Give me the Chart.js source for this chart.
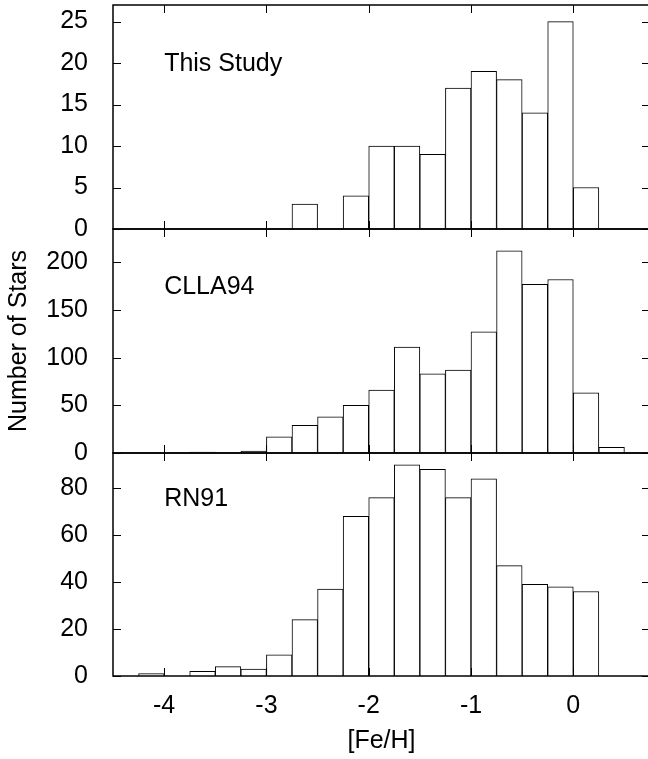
<!DOCTYPE html>
<html>
<head>
<meta charset="utf-8">
<script src="https://cdn.jsdelivr.net/npm/chart.js@4"></script>
<style>
  html, body { margin: 0; padding: 0; background: #fff; }
  #wrap { position: relative; width: 648px; height: 759px; overflow: hidden; }
  canvas { position: absolute; left: 0; }
</style>
</head>
<body>
<div id="wrap">
  <canvas id="p1" width="650" height="250" style="top:0px"></canvas>
  <canvas id="p2" width="650" height="260" style="top:210px"></canvas>
  <canvas id="p3" width="650" height="324" style="top:435px"></canvas>
</div>
<script>
// ---- Data: [Fe/H] histograms, bin width 0.25 ----
const binCenters = [-4.375, -4.125, -3.875, -3.625, -3.375, -3.125, -2.875, -2.625, -2.375, -2.125,
                    -1.875, -1.625, -1.375, -1.125, -0.875, -0.625, -0.375, -0.125, 0.125, 0.375];
const thisStudy  = [0, 0, 0, 0, 0, 0, 0, 3, 0, 4, 10, 10, 9, 17, 19, 18, 14, 25, 5, 0];
const clla94     = [0, 0, 0, 1, 0, 2, 17, 29, 38, 50, 66, 111, 83, 87, 127, 212, 177, 182, 63, 6];
const rn91       = [0, 1, 0, 2, 4, 3, 9, 24, 37, 68, 76, 90, 88, 76, 84, 47, 39, 38, 36, 0];
const panelLabels = ['This Study', 'CLLA94', 'RN91'];
const xTicksStep = 1;

const FONT = '"Liberation Sans", Arial, Helvetica, sans-serif';
Chart.defaults.font.family = FONT;
Chart.defaults.font.size = 25;
Chart.defaults.color = '#000';

// ---- frame + inward ticks + panel label (gnuplot look) ----
const framePlugin = {
  id: 'frame',
  afterDraw(chart, args, opts) {
    const { ctx, chartArea: a, scales } = chart;
    const tl = 8;
    ctx.save();
    ctx.strokeStyle = '#000';
    ctx.lineWidth = 1;
    ctx.beginPath();
    scales.y.ticks.forEach(t => {
      const py = Math.round(scales.y.getPixelForValue(t.value)) + 0.5;
      ctx.moveTo(a.left, py); ctx.lineTo(a.left + tl, py);
      ctx.moveTo(a.right, py); ctx.lineTo(a.right - tl, py);
    });
    scales.x.ticks.forEach(t => {
      const px = Math.round(scales.x.getPixelForValue(t.value)) + 0.5;
      ctx.moveTo(px, a.top); ctx.lineTo(px, a.top + tl);
      ctx.moveTo(px, a.bottom); ctx.lineTo(px, a.bottom - tl);
    });
    ctx.stroke();
    ctx.lineWidth = 1.5;
    ctx.strokeRect(a.left, a.top, a.width, a.height);
    ctx.font = '25px ' + FONT;
    ctx.fillStyle = '#000';
    ctx.textBaseline = 'middle';
    ctx.textAlign = 'left';
    ctx.fillText(opts.label, scales.x.getPixelForValue(-4), a.top + opts.labelOffset);
    ctx.restore();
  }
};

function makePanel(canvasId, values, yMax, yStep, label, labelOffset, pad, isBottom, yTitle) {
  const ctx = document.getElementById(canvasId);
  return new Chart(ctx, {
    type: 'bar',
    data: {
      datasets: [{
        data: binCenters.map((x, i) => ({ x, y: values[i] > 0 ? values[i] : null })),
        backgroundColor: '#fff',
        borderColor: '#000',
        borderWidth: 1,
        borderSkipped: 'start',
        barPercentage: 1,
        categoryPercentage: 1,
        grouped: false,
      }]
    },
    options: {
      responsive: false,
      animation: false,
      layout: { padding: pad },
      plugins: {
        legend: { display: false },
        tooltip: { enabled: false },
        frame: { label, labelOffset },
      },
      scales: {
        x: {
          type: 'linear',
          min: -4.5,
          max: 0.75,
          offset: false,
          display: isBottom,
          grid: { display: false },
          border: { display: false },
          ticks: { stepSize: xTicksStep, includeBounds: false, padding: 7, color: '#000' },
          title: { display: isBottom, text: '[Fe/H]', padding: { top: 0, bottom: 3 } },
          afterFit: s => {
            if (isBottom) s.height = 83;
            s.paddingLeft = 0; s.paddingRight = 0;
          },
        },
        y: {
          min: 0,
          max: yMax,
          grid: { display: false },
          border: { display: false },
          ticks: { stepSize: yStep, includeBounds: false, padding: 17, color: '#000' },
          title: { display: !!yTitle, text: yTitle || '', padding: { top: 4, bottom: 0 } },
          afterFit: s => {
            s.width = 113;
            s.paddingTop = 0; s.paddingBottom = 0;
          },
        }
      }
    },
    plugins: [framePlugin]
  });
}

makePanel('p1', thisStudy, 27, 5, panelLabels[0], 59, { top: 5, bottom: 21, left: 0, right: 0 }, false, null);
makePanel('p2', clla94, 235, 50, panelLabels[1], 58, { top: 19, bottom: 17, left: 0, right: 0 }, false, 'Number of Stars');
makePanel('p3', rn91, 95, 20, panelLabels[2], 46, { top: 18, bottom: 0, left: 0, right: 0 }, true, null);
</script>
</body>
</html>
